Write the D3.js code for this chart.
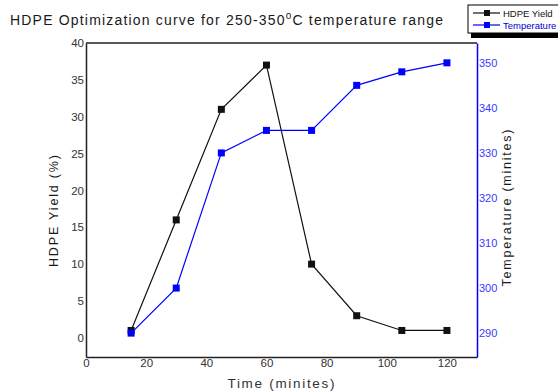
<!DOCTYPE html>
<html>
<head>
<meta charset="utf-8">
<script src="https://cdn.jsdelivr.net/npm/d3@7"></script>
<style>
  html, body { margin: 0; padding: 0; background: #fff; }
  text { font-family: "Liberation Sans", Arial, sans-serif; }
</style>
</head>
<body>
<main></main>
<script>
let svgWidth  = 558;
let svgHeight = 392;

// data
let times       = [15, 30, 45, 60, 75, 90, 105, 120];
let yieldVals   = [1, 16, 31, 37, 10, 3, 1, 1];
let tempVals    = [290, 300, 330, 335, 335, 345, 348, 350];
let xTicks      = [0, 20, 40, 60, 80, 100, 120];
let yieldTicks  = [0, 5, 10, 15, 20, 25, 30, 35, 40];
let tempTicks   = [290, 300, 310, 320, 330, 340, 350];
let seriesNames = ['HDPE Yield', 'Temperature'];

const frame = { left: 86, right: 477, top: 43, bottom: 357 };
const blue = '#0000ff';

let svg = d3.select('body main')
  .append('svg')
  .attr('width', svgWidth)
  .attr('height', svgHeight);

let x = d3.scaleLinear().domain([0, 130]).range([frame.left, frame.right]);
let yL = d3.scaleLinear().domain([-2.6, 40]).range([frame.bottom, frame.top]);
let yR = d3.scaleLinear().domain([284.7, 354.4]).range([frame.bottom, frame.top]);

// title
let title = svg.append('text')
  .attr('x', 10).attr('y', 25)
  .attr('font-size', '14px')
  .attr('fill', '#1a1a1a')
  .attr('textLength', 433)
  .attr('lengthAdjust', 'spacing');
title.append('tspan').text('HDPE Optimization curve for 250-350');
title.append('tspan').attr('font-size', '10px').attr('dy', -6).text('o');
title.append('tspan').attr('dy', 6).text('C temperature range');

// frame: top line
svg.append('line')
  .attr('x1', frame.left).attr('x2', frame.right)
  .attr('y1', frame.top).attr('y2', frame.top)
  .attr('stroke', '#222').attr('stroke-width', 1.5);

// axes
let xAxis = svg.append('g')
  .attr('transform', 'translate(0,' + frame.bottom + ')')
  .call(d3.axisBottom(x).tickValues(xTicks).tickSize(0).tickPadding(2));

let leftAxis = svg.append('g')
  .attr('transform', 'translate(' + frame.left + ',0)')
  .call(d3.axisLeft(yL).tickValues(yieldTicks).tickSize(0).tickPadding(2));

let rightAxis = svg.append('g')
  .attr('transform', 'translate(' + frame.right + ',0)')
  .call(d3.axisRight(yR).tickValues(tempTicks).tickSize(0).tickPadding(2));

[xAxis, leftAxis].forEach(function(a) {
  a.select('.domain').attr('stroke', '#222').attr('stroke-width', 1.5);
  a.selectAll('text').attr('fill', '#333').attr('font-size', '11.5px')
    .attr('font-family', '"Liberation Sans", Arial, sans-serif');
});
rightAxis.select('.domain').attr('stroke', blue).attr('stroke-width', 1.5);
rightAxis.selectAll('text').attr('fill', '#3a3aff').attr('font-size', '11px')
  .attr('font-family', '"Liberation Sans", Arial, sans-serif');

// axis titles
svg.append('text')
  .attr('x', 281).attr('y', 388)
  .attr('text-anchor', 'middle')
  .attr('font-size', '13.5px').attr('fill', '#333')
  .attr('textLength', 107).attr('lengthAdjust', 'spacing')
  .text('Time (minites)');

svg.append('text')
  .attr('transform', 'translate(58,211) rotate(-90)')
  .attr('text-anchor', 'middle')
  .attr('font-size', '12.5px').attr('fill', '#1a1a1a')
  .attr('textLength', 112).attr('lengthAdjust', 'spacing')
  .text('HDPE Yield (%)');

svg.append('text')
  .attr('transform', 'translate(511,208) rotate(-90)')
  .attr('text-anchor', 'middle')
  .attr('font-size', '12.5px').attr('fill', '#1a1a1a')
  .attr('textLength', 157).attr('lengthAdjust', 'spacing')
  .text('Temperature (minites)');

// series
let series = [
  { vals: yieldVals, y: yL, color: '#111' },
  { vals: tempVals,  y: yR, color: blue }
];

series.forEach(function(s) {
  let pts = times.map(function(t, i) { return [t, s.vals[i]]; });
  svg.append('path')
    .datum(pts)
    .attr('fill', 'none')
    .attr('stroke', s.color)
    .attr('stroke-width', 1.2)
    .attr('d', d3.line()
      .x(function(d) { return x(d[0]); })
      .y(function(d) { return s.y(d[1]); }));

  svg.append('g')
    .selectAll('rect')
    .data(pts)
    .enter()
      .append('rect')
      .attr('x', function(d) { return x(d[0]) - 3.5; })
      .attr('y', function(d) { return s.y(d[1]) - 3.5; })
      .attr('width', 7)
      .attr('height', 7)
      .attr('fill', s.color);
});

// legend with shadow
let lg = svg.append('g');
lg.append('rect')
  .attr('x', 471).attr('y', 8).attr('width', 100).attr('height', 30)
  .attr('fill', '#000');
lg.append('rect')
  .attr('x', 468).attr('y', 5).attr('width', 100).attr('height', 28)
  .attr('fill', '#fff').attr('stroke', '#000').attr('stroke-width', 1);

seriesNames.forEach(function(name, i) {
  let ly = 13 + i * 12;
  let c = series[i].color;
  lg.append('line')
    .attr('x1', 473).attr('x2', 500).attr('y1', ly).attr('y2', ly)
    .attr('stroke', c).attr('stroke-width', 1.2);
  lg.append('rect')
    .attr('x', 484).attr('y', ly - 3).attr('width', 6).attr('height', 6)
    .attr('fill', c);
  lg.append('text')
    .attr('x', 503).attr('y', ly + 3.5)
    .attr('font-size', '9.5px').attr('fill', i === 0 ? '#111' : '#00c')
    .text(name);
});
</script>
</body>
</html>
